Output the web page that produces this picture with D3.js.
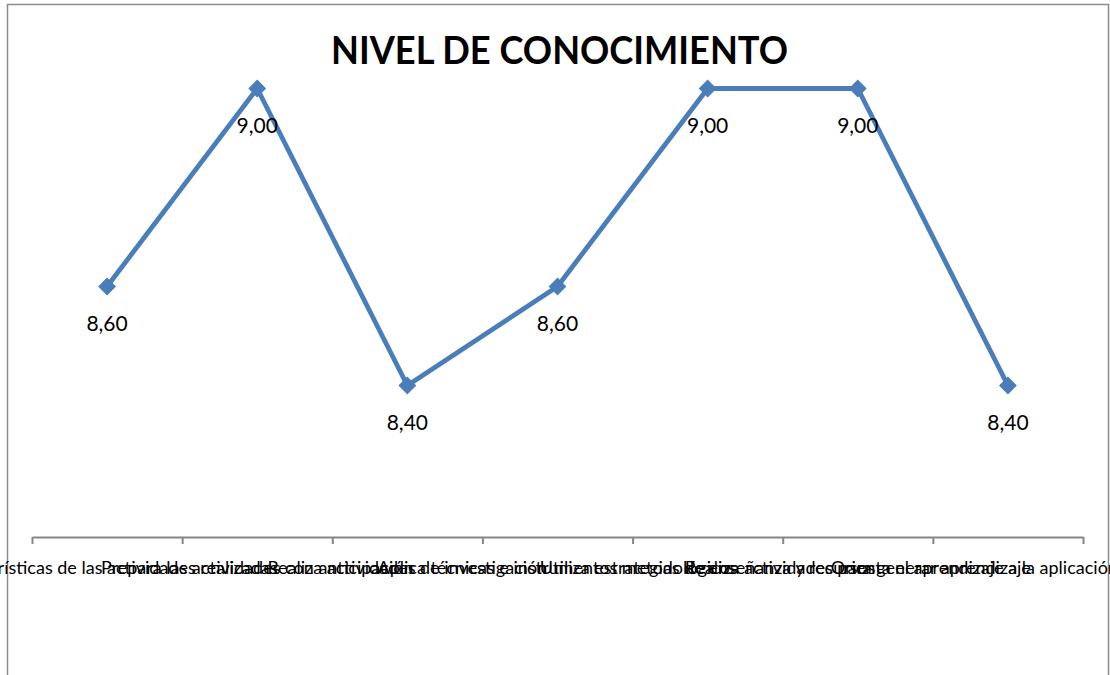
<!DOCTYPE html>
<html>
<head>
<meta charset="utf-8">
<script src="https://cdn.jsdelivr.net/npm/d3@7"></script>
<style>
  html, body { margin: 0; padding: 0; background: #fff; }
  svg { display: block; }
</style>
</head>
<body>
<svg id="chart" width="1110" height="675"></svg>
<script>
const categories = [
  "Características de las actividades realizadas",
  "Prepara las actividades con anticipación",
  "Realiza actividades de investigación",
  "Aplica técnicas e instrumentos metodológicos",
  "Utiliza estrategias de enseñanza y recursos",
  "Realiza actividades para generar aprendizaje",
  "Orienta el aprendizaje a la aplicación práctica"
];
const values = [8.60, 9.00, 8.40, 8.60, 9.00, 9.00, 8.40];
const title = "NIVEL DE CONOCIMIENTO";

const svg = d3.select("#chart");
const fontMain = "Lato, 'Open Sans', 'DejaVu Sans', sans-serif";

// chart border
svg.append("rect")
  .attr("x", 7.5).attr("y", 4.5)
  .attr("width", 1101).attr("height", 700)
  .attr("fill", "#fff").attr("stroke", "#8c8c8c").attr("stroke-width", 1.5);

const left = 32, right = 1083, axisY = 537;
const x = d3.scaleBand().domain(categories).range([left, right]).padding(0);
const xEdge = d3.scaleLinear().domain([0, categories.length]).range([left, right]);
const y = d3.scaleLinear().domain([8.1, 9.1]).range([534, 39]);

// title
svg.append("text")
  .attr("x", 559.5).attr("y", 64)
  .attr("text-anchor", "middle")
  .attr("font-family", fontMain)
  .attr("font-weight", "bold")
  .attr("font-size", 39)
  .attr("textLength", 457)
  .attr("lengthAdjust", "spacingAndGlyphs")
  .attr("fill", "#000")
  .text(title);

// x axis (category boundaries ticks)
const axis = d3.axisBottom(xEdge)
  .tickValues(d3.range(categories.length + 1))
  .tickSize(7)
  .tickSizeOuter(0)
  .tickFormat("");
const gAxis = svg.append("g").attr("transform", `translate(0,${axisY})`).call(axis);
gAxis.select(".domain").attr("stroke", "#868686").attr("stroke-width", 2);
gAxis.selectAll(".tick line").attr("stroke", "#868686").attr("stroke-width", 2);

// category labels (overlapping, as in the original)
svg.append("g").selectAll("text")
  .data(categories)
  .join("text")
  .attr("x", d => x(d) + x.bandwidth() / 2)
  .attr("y", 574)
  .attr("text-anchor", "middle")
  .attr("font-family", fontMain)
  .attr("font-size", 18)
  .attr("fill", "#000")
  .text(d => d);

// line
const line = d3.line()
  .x((d, i) => x(categories[i]) + x.bandwidth() / 2)
  .y(d => y(d));
svg.append("path")
  .datum(values)
  .attr("d", line)
  .attr("fill", "none")
  .attr("stroke", "#4a7ebb")
  .attr("stroke-width", 4.8)
  .attr("stroke-linejoin", "round");

// markers (diamonds)
const diamond = d3.symbol().type(d3.symbolSquare).size(135);
svg.append("g").selectAll("path")
  .data(values)
  .join("path")
  .attr("d", diamond)
  .attr("transform", (d, i) => `translate(${x(categories[i]) + x.bandwidth() / 2},${y(d)}) rotate(45)`)
  .attr("fill", "#4a7ebb")
  .attr("stroke", "#4a7ebb")
  .attr("stroke-width", 1);

// data labels
const fmt = v => v.toFixed(2).replace(".", ",");
svg.append("g").selectAll("text")
  .data(values)
  .join("text")
  .attr("x", (d, i) => x(categories[i]) + x.bandwidth() / 2)
  .attr("y", d => y(d) + 37)
  .attr("dy", "0.35em")
  .attr("text-anchor", "middle")
  .attr("font-family", fontMain)
  .attr("font-size", 21)
  .attr("fill", "#000")
  .text(d => fmt(d));
</script>
</body>
</html>
